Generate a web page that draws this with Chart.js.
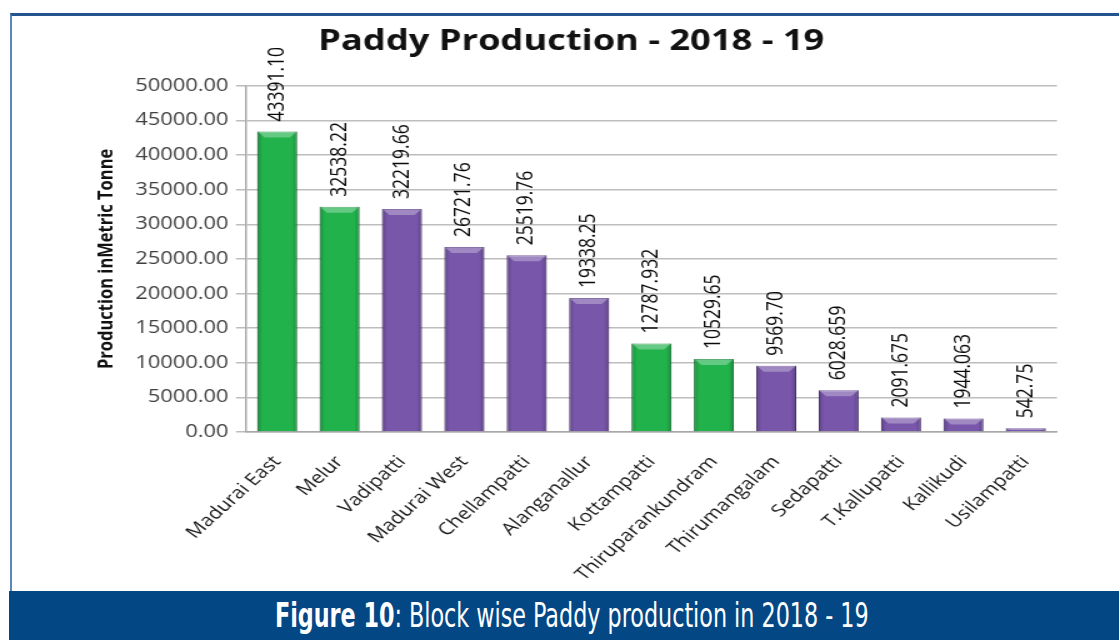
<!DOCTYPE html>
<html>
<head>
<meta charset="utf-8">
<title>Paddy Production - 2018 - 19</title>
<script src="https://cdn.jsdelivr.net/npm/chart.js@4.4.1/dist/chart.umd.min.js"></script>
<style>
  body { margin: 0; width: 1119px; height: 640px; overflow: hidden; background: #fff; position: relative; font-family: "Open Sans", sans-serif; }
  #frame { position: absolute; left: 10px; top: 13px; width: 1130px; height: 578px; box-sizing: border-box;
           border-top: 3px solid #24548f; border-left: 2px solid #5a86ba; }
  /* the chart is laid out narrow and widened, like the original figure */
  #wrap { position: absolute; left: 0; top: 0; width: 895px; height: 591px; transform: scaleX(1.25); transform-origin: 0 0; }
  #caption { position: absolute; left: 9px; top: 591px; width: 1110px; height: 49px; box-sizing: border-box; padding-left: 15px;
             background: #034785; color: #fff; text-align: center; line-height: 49px; white-space: nowrap; overflow: hidden; }
  #caption span { display: inline-block; font-family: "Liberation Sans Narrow", "DejaVu Sans Condensed", sans-serif;
                  font-size: 33px; transform: scaleX(0.75); transform-origin: 50% 50%; }
</style>
</head>
<body>
<div id="frame"></div>
<div id="wrap"><canvas id="chart" width="895" height="591"></canvas></div>
<div id="caption"><span><b>Figure 10</b>: Block wise Paddy production in 2018 - 19</span></div>
<script>
const blocks = ["Madurai East", "Melur", "Vadipatti", "Madurai West", "Chellampatti", "Alanganallur",
                "Kottampatti", "Thiruparankundram", "Thirumangalam", "Sedapatti", "T.Kallupatti", "Kallikudi", "Usilampatti"];
const production = [43391.10, 32538.22, 32219.66, 26721.76, 25519.76, 19338.25,
                    12787.932, 10529.65, 9569.70, 6028.659, 2091.675, 1944.063, 542.75];
const decimals = [2, 2, 2, 2, 2, 2, 3, 2, 2, 3, 3, 3, 2];
const yTicks = [0, 5000, 10000, 15000, 20000, 25000, 30000, 35000, 40000, 45000, 50000];
const greenBlocks = ["Madurai East", "Melur", "Kottampatti", "Thiruparankundram"];

const isGreen = i => greenBlocks.includes(blocks[i]);

// light top bevel and darker sides on every bar
const bevel = {
  id: "bevel",
  afterDatasetsDraw(chart) {
    const ctx = chart.ctx;
    ctx.save();
    chart.getDatasetMeta(0).data.forEach(bar => {
      const l = bar.x - bar.width / 2, r = bar.x + bar.width / 2, t = bar.y, b = bar.base;
      const d = Math.min(6, (b - t) / 2);
      const g = ctx.createLinearGradient(l, 0, r, 0);
      g.addColorStop(0, "rgba(0,0,0,0.22)");
      g.addColorStop(0.13, "rgba(0,0,0,0)");
      g.addColorStop(0.87, "rgba(0,0,0,0)");
      g.addColorStop(1, "rgba(0,0,0,0.22)");
      ctx.fillStyle = g;
      ctx.fillRect(l, t, r - l, b - t);
      ctx.fillStyle = "rgba(255,255,255,0.3)";
      ctx.beginPath();
      ctx.moveTo(l, t); ctx.lineTo(r, t); ctx.lineTo(r - d, t + d); ctx.lineTo(l + d, t + d);
      ctx.closePath();
      ctx.fill();
    });
    ctx.restore();
  }
};

// vertical value labels above the bars
const valueLabels = {
  id: "valueLabels",
  afterDatasetsDraw(chart) {
    const ctx = chart.ctx;
    ctx.save();
    ctx.font = '500 17.5px "Open Sans"';
    ctx.fillStyle = "#0a0a0a";
    ctx.textAlign = "left";
    ctx.textBaseline = "middle";
    chart.getDatasetMeta(0).data.forEach((bar, i) => {
      ctx.save();
      ctx.translate(bar.x, bar.y - 10);
      ctx.rotate(-Math.PI / 2);
      ctx.fillText(production[i].toFixed(decimals[i]), 0, 0);
      ctx.restore();
    });
    ctx.restore();
  }
};

Chart.defaults.font.family = '"Open Sans", sans-serif';

new Chart(document.getElementById("chart"), {
  type: "bar",
  data: {
    labels: blocks,
    datasets: [{
      data: production,
      backgroundColor: ctx => isGreen(ctx.dataIndex) ? "#22b24c" : "#7856aa",
      borderColor: ctx => isGreen(ctx.dataIndex) ? "#138a38" : "#553686",
      borderWidth: 1,
      barPercentage: 0.64,
      categoryPercentage: 1
    }]
  },
  options: {
    responsive: false,
    animation: false,
    layout: { padding: { left: 68.4, right: 49.4, top: 0, bottom: 0 } },
    plugins: {
      legend: { display: false },
      tooltip: { enabled: false },
      title: {
        display: true,
        text: "Paddy Production - 2018 - 19",
        color: "#111",
        font: { size: 29, weight: "bold" },
        padding: { top: 24, bottom: 27 }
      }
    },
    scales: {
      x: {
        grid: { display: false, drawTicks: false },
        border: { color: "#a8a8a8", width: 1.5 },
        ticks: { autoSkip: false, minRotation: 48, maxRotation: 48, padding: 20, color: "#1a1a1a", font: { size: 17 } },
        afterFit: s => { s.height = 159; }
      },
      y: {
        min: 0,
        max: 50000,
        afterBuildTicks: s => { s.ticks = yTicks.map(v => ({ value: v })); },
        afterFit: s => { s.width = 128.4; },
        ticks: { padding: 6, color: "#404040", font: { size: 17.5 }, callback: v => Number(v).toFixed(2) },
        grid: { color: "#bdbdbd", lineWidth: 1.5, tickLength: 8 },
        border: { color: "#a8a8a8", width: 1.5 },
        title: {
          display: true,
          text: "Production inMetric Tonne",
          color: "#111",
          font: { size: 16.5, weight: "bold" },
          padding: { top: 7, bottom: 0 }
        }
      }
    }
  },
  plugins: [bevel, valueLabels]
});
</script>
</body>
</html>
